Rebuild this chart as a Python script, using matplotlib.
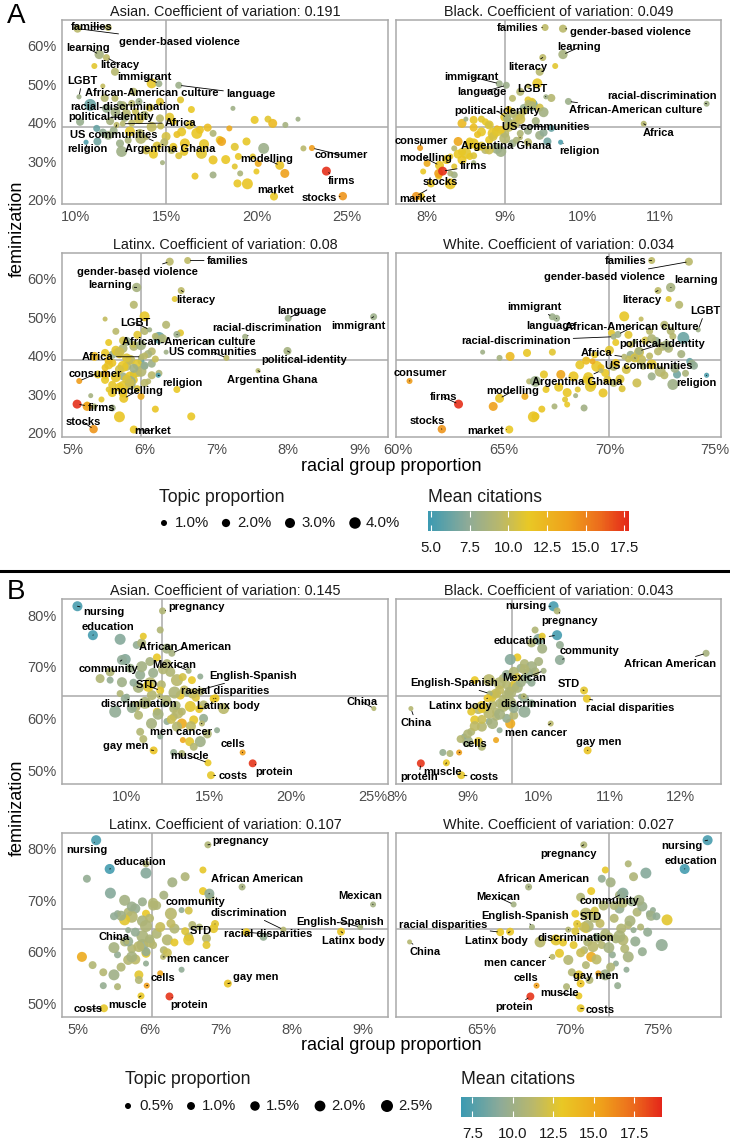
import numpy as np
import matplotlib
matplotlib.use("Agg")
import matplotlib.pyplot as plt
from matplotlib.colors import LinearSegmentedColormap, Normalize
from matplotlib.cm import ScalarMappable
from matplotlib.lines import Line2D

plt.rcParams["font.family"] = ["Liberation Sans", "DejaVu Sans"]

W, H = 730, 1139
RACES = ["Asian", "Black", "Latinx", "White"]

# ---------------- Panel A: labelled topics ----------------
a_topics = ["families", "gender-based violence", "learning", "literacy", "immigrant",
            "language", "LGBT", "African-American culture", "racial-discrimination",
            "political-identity", "Africa", "US communities", "religion",
            "Argentina Ghana", "consumer", "modelling", "firms", "market", "stocks"]
a_fem = [64.8, 64.5, 57.8, 57.0, 50.2, 49.8, 46.8, 45.6, 45.0, 41.3, 39.8, 39.5, 35.0,
         36.2, 33.5, 29.0, 27.5, 20.9, 21.0]
a_prop = [1.4, 1.9, 2.6, 1.4, 1.4, 1.4, 0.7, 1.4, 1.0, 1.9, 1.0, 1.0, 0.7, 0.7, 1.0, 2.4,
          2.4, 1.9, 2.1]
a_cites = [9.6, 9.5, 8.6, 9.6, 8.0, 8.0, 8.2, 8.0, 8.3, 8.5, 9.3, 9.6, 5.4, 9.3, 14.0,
           11.5, 17.5, 11.3, 14.3]
a_asian = [11.8, 10.1, 11.3, 11.7, 14.6, 15.7, 10.18, 13.5, 12.45, 12.7, 12.6, 12.26,
           10.57, 13.9, 23.07, 21.29, 23.87, 20.97, 24.78]
a_black = [9.52, 9.75, 9.75, 9.49, 8.93, 9.02, 9.53, 9.82, 11.6, 9.03, 10.79, 9.15, 9.72,
           9.2, 7.91, 8.16, 8.2, 7.92, 7.86]
a_latinx = [6.6, 6.35, 5.89, 6.51, 9.19, 8.0, 6.07, 6.45, 7.4, 7.99, 5.96, 7.14, 6.19,
            7.58, 5.09, 5.71, 5.06, 5.85, 5.29]
a_white = [72.0, 73.76, 72.9, 72.3, 67.3, 67.5, 74.2, 70.4, 70.2, 71.4, 70.7, 71.2, 74.6,
           69.6, 60.54, 64.8, 62.86, 65.26, 62.07]

# ---------------- Panel A: other (unlabelled) topics ----------------
a_other_fem = [54.8, 53.3, 49.6, 50.3, 48.1, 46.4, 44.7, 43.8, 40.3, 38.6, 35.2, 34.7, 32.6,
               37.3, 45.5, 41.2, 40.3, 37.7, 37.3, 34.7, 32.1, 38.2, 37.3, 35.6, 35.2, 38.6,
               33.8, 35.2, 40.8, 41.0, 39.9, 39.5, 41.0, 33.4, 33.4, 31.3, 31.3, 26.2, 26.5,
               24.3, 24.2, 26.9, 27.4, 26.9, 29.5, 28.7, 29.7, 31.9, 33.0, 30.4, 46.0, 43.8,
               42.5, 45.1, 33.8,
               42.0, 39.0, 36.5, 40.5, 37.8, 43.0, 34.0, 38.0, 41.5, 36.0, 44.0, 32.5, 39.5,
               35.5, 42.8, 30.5, 37.0, 40.0, 33.0, 44.5, 38.8, 35.0, 41.0, 46.5, 31.5, 36.8,
               43.5, 34.5, 39.2, 37.5]
a_other_prop = [1.0, 1.9, 0.66, 3.0, 1.9, 1.4, 4.3, 2.4, 1.9, 1.4, 1.9, 1.9, 3.6, 2.4, 1.9,
                1.9, 1.4, 2.4, 3.6, 3.0, 3.6, 1.9, 1.4, 1.9, 2.4, 1.0, 1.9, 1.9, 1.9, 1.4,
                2.4, 1.0, 0.66, 1.0, 3.6, 1.0, 1.4, 1.4, 1.4, 1.9, 3.6, 1.0, 1.0, 2.4, 1.4,
                1.0, 0.66, 2.4, 1.9, 2.4, 1.4, 0.66, 2.4, 1.4, 1.9,
                2.4, 3.0, 2.4, 1.9, 3.0, 1.4, 2.4, 1.9, 2.4, 3.6, 1.9, 1.9, 2.4, 1.4, 3.0,
                2.4, 1.4, 1.4, 2.4, 2.4, 1.9, 1.9, 3.0, 1.9, 1.4, 2.4, 1.4, 3.0, 1.4, 1.9]
a_other_cites = [11.0, 9.3, 9.8, 11.2, 9.2, 9.5, 6.3, 7.8, 7.8, 6.2, 6.5, 8.0, 8.2, 9.3,
                 11.0, 9.4, 11.3, 11.2, 11.4, 11.5, 11.0, 11.6, 9.0, 11.3, 13.5, 13.2, 11.0,
                 11.2, 11.4, 11.0, 12.2, 8.5, 8.2, 9.4, 8.0, 11.0, 11.3, 11.5, 8.3, 11.4,
                 11.5, 8.8, 11.3, 13.8, 13.2, 11.0, 8.5, 11.3, 9.5, 11.5, 11.0, 8.2, 9.3,
                 9.3, 11.3,
                 9.0, 9.8, 10.5, 8.6, 11.0, 10.0, 10.8, 8.0, 11.0, 9.2, 10.4, 11.2, 10.8,
                 8.8, 8.4, 11.4, 11.8, 9.6, 10.2, 9.0, 12.0, 9.5, 10.2, 9.2, 10.8, 8.2,
                 11.3, 11.2, 10.0, 7.5]
a_other_asian = [11.03, 12.17, 11.5, 14.2, 13.2, 12.17, 10.8, 11.7, 10.24, 11.16, 11.2,
                 12.45, 12.54, 13.55, 14.66, 14.66, 15.4, 15.86, 16.7, 16.04, 16.96, 16.87,
                 17.6, 17.97, 18.07, 18.5, 18.8, 19.45, 19.9, 20.64, 20.9, 21.6, 22.3, 22.6,
                 20.4, 19.8, 19.0, 16.6, 17.6, 18.95, 19.5, 19.1, 20.0, 21.57, 20.1, 18.8,
                 14.8, 14.3, 15.3, 17.6, 15.8, 18.7, 12.8, 13.1, 15.4,
                 13.8, 14.2, 15.0, 11.9, 13.0, 13.3, 14.5, 12.1, 15.2, 13.6, 14.1, 16.0,
                 16.3, 12.9, 12.2, 18.3, 15.6, 13.1, 13.9, 12.6, 17.3, 14.9, 13.5, 11.6,
                 15.7, 11.8, 16.4, 17.1, 14.7, 11.5]
a_other_black = [9.65, 9.45, 9.3, 9.42, 9.2, 9.1, 9.35, 9.25, 9.05, 9.6, 9.55, 9.1, 8.95,
                 9.0, 9.35, 9.15, 8.75, 8.7, 8.85, 8.6, 8.5, 8.95, 9.2, 8.8, 8.4, 8.9, 8.65,
                 8.55, 8.6, 8.7, 8.45, 8.8, 8.5, 8.35, 8.9, 8.3, 8.55, 8.15, 8.35, 8.05, 8.3,
                 8.3, 7.95, 8.15, 8.0, 8.35, 8.6, 8.4, 8.75, 8.45, 9.3, 9.3, 9.1, 9.3, 8.65,
                 9.2, 9.05, 8.85, 9.4, 8.9, 9.25, 8.7, 9.3, 9.0, 9.0, 9.45, 8.45, 8.8, 9.15,
                 9.5, 8.25, 8.65, 9.1, 8.8, 9.35, 8.6, 9.3, 9.2, 9.6, 8.6, 9.45, 9.05, 8.55,
                 9.1, 9.5]
a_other_latinx = [6.42, 5.85, 5.45, 6.0, 6.3, 5.6, 6.2, 5.75, 5.55, 5.95, 5.85, 5.7, 5.8,
                  5.75, 5.9, 6.1, 5.65, 5.5, 5.7, 5.8, 5.7, 5.55, 6.0, 5.9, 5.45, 5.8, 5.85,
                  5.35, 5.45, 5.6, 5.3, 5.95, 6.3, 6.05, 5.8, 5.5, 6.45, 6.15, 5.55, 6.65,
                  5.65, 5.3, 5.2, 5.2, 5.95, 5.4, 5.25, 5.65, 6.0, 5.7, 6.5, 6.9, 5.85, 6.15,
                  5.45,
                  5.7, 5.8, 5.65, 6.05, 5.9, 5.85, 5.75, 6.1, 5.6, 5.95, 5.7, 5.55, 5.75,
                  6.2, 5.95, 5.55, 5.45, 6.0, 5.8, 6.25, 5.5, 6.1, 5.65, 6.0, 5.9, 5.85,
                  5.5, 5.6, 6.15, 6.0]
a_other_white = [72.8, 73.3, 71.5, 70.7, 72.6, 71.9, 73.5, 72.2, 71.0, 73.8, 73.2, 72.0,
                 73.0, 70.2, 70.9, 72.3, 69.3, 68.6, 69.4, 68.3, 69.1, 70.3, 71.6, 69.8,
                 67.7, 69.2, 69.9, 66.9, 66.1, 67.3, 65.3, 64.8, 64.0, 66.2, 66.5, 68.5,
                 67.0, 66.8, 68.8, 66.5, 66.4, 67.4, 68.0, 64.5, 66.0, 67.9, 68.4, 67.6,
                 70.2, 69.7, 70.1, 71.2, 72.5, 73.0, 68.9,
                 72.8, 71.5, 70.8, 73.4, 72.0, 71.0, 70.5, 73.9, 70.0, 72.4, 71.7, 69.2,
                 71.2, 73.6, 72.7, 68.0, 69.6, 71.9, 71.3, 72.0, 68.9, 72.6, 71.4, 72.9,
                 70.6, 73.1, 70.3, 69.0, 70.9, 74.0]

a_cv = ["0.191", "0.049", "0.08", "0.034"]
a_mean_x = [15.0, 9.0, 5.95, 70.0]
a_mean_fem = 38.9

# ---------------- Panel B: labelled topics ----------------
b_topics = ["nursing", "pregnancy", "education", "African American", "community", "Mexican",
            "English-Spanish", "STD", "racial disparities", "discrimination", "Latinx body",
            "China", "men cancer", "gay men", "cells", "muscle", "costs", "protein"]
b_fem = [81.7, 80.8, 76.1, 72.6, 71.3, 69.2, 64.8, 65.4, 63.8, 64.3, 63.9, 61.9, 59.0, 53.8,
         53.4, 51.4, 49.0, 51.3]
b_prop = [1.7, 0.74, 1.7, 0.74, 1.7, 0.5, 0.5, 1.0, 1.0, 0.5, 1.0, 0.3, 0.5, 1.0, 0.5, 0.74,
          1.0, 1.0]
b_cites = [7.2, 10.8, 7.1, 10.4, 9.3, 10.2, 10.3, 12.8, 13.0, 11.0, 13.1, 11.0, 11.2, 13.2,
           15.5, 13.0, 12.9, 18.8]
b_asian = [6.99, 12.17, 7.93, 12.74, 9.7, 13.76, 13.66, 12.03, 15.28, 12.0, 15.4, 25.04,
           14.57, 11.63, 17.05, 14.94, 15.12, 17.66]
b_black = [10.21, 10.26, 10.26, 12.36, 10.3, 10.07, 9.31, 10.64, 10.68, 9.79, 9.28, 8.2,
           10.17, 10.69, 8.88, 8.7, 8.91, 8.34]
b_latinx = [5.25, 6.82, 5.44, 7.3, 6.84, 9.14, 8.96, 6.92, 7.36, 7.88, 8.69, 5.68, 6.19,
            7.1, 5.96, 5.88, 5.36, 6.28]
b_white = [77.8, 70.78, 76.5, 67.65, 72.95, 66.8, 67.84, 70.4, 66.04, 69.9, 66.6, 60.9,
           69.0, 70.6, 68.1, 70.5, 70.6, 67.75]

# ---------------- Panel B: other (unlabelled) topics ----------------
b_other_fem = [77.1, 75.3, 74.2, 74.6, 71.8, 73.5, 71.4, 67.7, 67.4, 68.4, 69.7, 66.8, 67.4,
               69.0, 67.4, 68.1, 61.3, 62.3, 62.9, 61.9, 62.3, 62.6, 61.9, 59.0, 60.3, 59.7,
               55.5, 55.5, 55.8, 53.4, 53.2, 57.4, 56.5, 57.7, 54.5, 64.2, 64.8, 69.0, 70.6,
               64.5, 64.5, 65.2, 59.4, 61.3, 58.4, 60.0, 61.3, 60.6, 75.9, 66.2, 62.9, 56.0,
               66.0, 63.5, 68.8, 61.0, 65.5, 70.0, 63.0, 59.8, 67.0, 64.0, 62.0, 66.5, 58.5,
               71.0, 60.8, 65.0, 68.0, 57.0, 63.8, 61.8, 69.5, 59.0, 64.8, 66.9, 62.5]
b_other_prop = [0.74, 2.07, 1.0, 1.33, 1.0, 1.7, 2.07, 1.33, 0.74, 1.7, 1.33, 2.5, 2.5, 1.7,
                1.0, 0.5, 2.5, 2.07, 1.33, 1.33, 2.07, 1.33, 2.07, 1.7, 1.0, 1.33, 2.07,
                1.33, 0.5, 0.74, 0.74, 1.0, 0.5, 0.5, 1.0, 0.5, 0.74, 1.33, 1.33, 1.7, 1.33,
                1.0, 0.74, 1.0, 1.7, 1.33, 1.0, 1.33, 0.74, 2.07, 1.0, 1.0,
                2.07, 1.7, 1.7, 2.07, 1.33, 2.07, 2.5, 1.33, 1.7, 1.0, 1.7, 1.33, 1.7, 1.33,
                2.07, 2.5, 1.0, 1.33, 1.33, 1.0, 1.7, 2.07, 1.7, 1.0, 1.33]
b_other_cites = [10.8, 9.0, 9.5, 10.7, 13.0, 10.2, 9.0, 10.8, 9.5, 9.6, 9.8, 11.0, 11.2,
                 10.8, 13.0, 9.5, 9.4, 11.0, 10.7, 10.8, 12.8, 11.0, 11.3, 14.8, 11.0, 12.9,
                 10.0, 12.8, 15.0, 9.6, 10.8, 10.9, 9.4, 9.5, 10.9, 9.6, 10.8, 10.8, 10.8,
                 10.9, 12.9, 11.0, 9.5, 12.8, 11.0, 9.6, 11.0, 10.9, 12.9, 12.8, 9.5, 11.0,
                 10.5, 10.8, 9.8, 11.2, 11.5, 10.2, 10.6, 11.8, 10.0, 12.5, 9.6, 11.0, 11.4,
                 10.4, 10.3, 10.7, 12.2, 10.8, 9.5, 12.9, 10.9, 10.4, 11.7, 9.4, 10.6]
b_other_asian = [12.03, 9.59, 10.6, 10.9, 11.83, 12.44, 9.9, 8.37, 8.98, 10.81, 10.2, 11.42,
                 13.05, 12.64, 13.96, 14.47, 9.29, 10.5, 11.22, 12.85, 13.86, 14.67, 15.89,
                 13.35, 12.85, 14.07, 14.47, 13.82, 13.41, 12.85, 13.35, 10.81, 12.03, 15.49,
                 14.07, 10.0, 9.59, 8.98, 12.44, 11.52, 13.25, 14.47, 12.44, 11.83, 13.05,
                 14.67, 13.35, 10.71, 11.0, 11.3, 12.3, 11.0,
                 10.7, 12.4, 11.6, 13.1, 13.5, 10.9, 11.1, 12.7, 9.7, 14.2, 10.3, 12.1, 13.9,
                 11.4, 11.9, 12.9, 13.4, 14.9, 9.9, 14.4, 12.2, 11.5, 14.0, 10.4, 13.0]
b_other_black = [9.95, 10.0, 10.3, 9.9, 9.7, 10.05, 9.6, 9.5, 9.85, 9.55, 9.75, 9.45, 9.3,
                 9.65, 9.1, 9.8, 9.8, 9.5, 9.45, 9.25, 9.2, 9.35, 9.15, 9.6, 9.4, 9.1, 9.0,
                 9.15, 9.4, 8.65, 8.75, 9.05, 8.95, 9.45, 9.2, 9.75, 9.4, 9.95, 9.8, 9.55,
                 9.35, 9.6, 9.3, 9.05, 9.2, 9.55, 9.4, 9.65, 10.05, 9.65, 9.9, 8.9,
                 9.7, 9.5, 9.85, 9.3, 9.45, 9.9, 9.6, 9.2, 9.75, 9.35, 9.65, 9.55, 9.1, 10.0,
                 9.45, 9.6, 9.7, 9.0, 9.8, 9.2, 9.8, 9.35, 9.4, 9.9, 9.55]
b_other_latinx = [5.95, 5.95, 5.12, 6.5, 6.75, 6.32, 5.45, 5.7, 5.55, 5.8, 5.9, 5.75, 6.3,
                  6.05, 5.95, 6.45, 5.9, 6.25, 6.55, 5.65, 6.55, 6.8, 6.0, 5.05, 6.2, 5.95,
                  5.5, 5.85, 6.15, 5.35, 5.55, 5.2, 6.45, 5.95, 5.85, 5.7, 6.7, 6.1, 6.85,
                  6.35, 6.9, 6.6, 5.55, 6.8, 5.7, 5.95, 6.05, 5.75, 6.75, 5.65, 7.6, 5.35,
                  5.9, 6.1, 5.75, 5.85, 6.3, 5.65, 5.9, 6.25, 5.6, 6.5, 5.7, 6.0, 5.8, 6.2,
                  5.5, 5.95, 6.55, 5.6, 5.8, 6.35, 6.05, 5.75, 6.15, 5.5, 6.0]
b_other_white = [73.3, 74.3, 71.8, 73.6, 71.2, 72.3, 73.0, 73.8, 74.5, 72.8, 73.5, 71.4,
                 70.9, 71.9, 70.3, 74.7, 75.2, 73.0, 72.2, 71.0, 69.2, 71.6, 68.3, 71.2,
                 70.8, 69.4, 72.0, 70.5, 71.6, 72.7, 69.8, 70.9, 73.2, 72.6, 71.1, 73.6,
                 74.0, 72.5, 70.6, 72.9, 70.9, 73.3, 72.4, 70.2, 69.9, 74.1, 71.8, 73.1,
                 72.0, 75.5, 71.5, 70.1,
                 73.4, 72.0, 74.1, 71.3, 71.7, 73.9, 72.8, 70.6, 74.6, 70.3, 73.7, 72.5,
                 71.5, 72.8, 72.2, 71.0, 71.4, 72.3, 74.4, 69.6, 73.0, 73.3, 70.8, 74.9, 72.6]

b_cv = ["0.145", "0.043", "0.107", "0.027"]
b_mean_x = [12.13, 9.63, 6.03, 72.2]
b_mean_fem = 64.4

# legend values
a_size_breaks = [1.0, 2.0, 3.0, 4.0]
b_size_breaks = [0.5, 1.0, 1.5, 2.0, 2.5]
a_cite_breaks = [5.0, 7.5, 10.0, 12.5, 15.0, 17.5]
b_cite_breaks = [7.5, 10.0, 12.5, 15.0, 17.5]

# ---------------- layout / style ----------------
CMAP = LinearSegmentedColormap.from_list(
    "cites", [(0.0, "#3B9AB2"), (0.2, "#8FAB97"), (0.36, "#BAB86A"), (0.5, "#E9C825"),
              (0.7, "#EFA01B"), (0.86, "#EC6A1C"), (1.0, "#E4261A")])
A_NORM = Normalize(4.8, 17.8)
B_NORM = Normalize(6.8, 19.2)

A_BOXES = [(62, 20, 388, 204), (396, 20, 721, 204), (62, 253, 388, 437), (396, 253, 721, 437)]
B_BOXES = [(62, 599, 388, 784), (396, 599, 721, 784), (62, 833, 388, 1017), (396, 833, 721, 1017)]
A_XLIM = [(9.24, 27.28), (7.6, 11.785), (4.85, 9.39), (59.9, 75.28)]
B_XLIM = [(6.05, 25.9), (7.99, 12.57), (4.77, 9.35), (60.13, 78.56)]
A_YLIM = (18.96, 66.75)
B_YLIM = (47.3, 83.1)
A_XTICKS = [[10, 15, 20, 25], [8, 9, 10, 11], [5, 6, 7, 8, 9], [60, 65, 70, 75]]
B_XTICKS = [[10, 15, 20, 25], [8, 9, 10, 11, 12], [5, 6, 7, 8, 9], [65, 70, 75]]
A_YTICKS = [20, 30, 40, 50, 60]
B_YTICKS = [50, 60, 70, 80]

# label offsets from each point, pixels (right, up)
A_OFFSETS = {
    "Asian": {"families": (-17, 1), "gender-based violence": (102, -13), "learning": (-11, 6),
              "literacy": (13, -7), "immigrant": (-14, 7), "LGBT": (3, 16),
              "African-American culture": (13, 8), "language": (72, -9),
              "racial-discrimination": (5, -3), "political-identity": (-13, 1),
              "Africa": (58, 1), "US communities": (-3, -10), "religion": (1, -7),
              "Argentina Ghana": (24, -11), "consumer": (29, -7), "modelling": (-13, 6),
              "firms": (15, -10), "market": (2, 7), "stocks": (-24, -2)},
    "Black": {"families": (-27, 0), "gender-based violence": (67, -3), "learning": (16, 7),
              "literacy": (-15, -9), "immigrant": (-28, 7), "language": (-24, -7),
              "LGBT": (-14, 8), "African-American culture": (67, -9),
              "racial-discrimination": (-45, 8), "political-identity": (-10, 7),
              "Africa": (15, -9), "US communities": (29, -2), "religion": (19, -9),
              "Argentina Ghana": (-14, -8), "consumer": (1, 7), "modelling": (-14, 7),
              "firms": (31, 5), "stocks": (24, 14), "market": (-3, -2)},
    "Latinx": {"families": (40, 0), "gender-based violence": (-32, -10), "learning": (-27, 2),
               "literacy": (15, -9), "immigrant": (-15, -9), "language": (14, 7),
               "LGBT": (-14, 7), "African-American culture": (12, -8),
               "racial-discrimination": (22, 9), "political-identity": (17, -9),
               "Africa": (-44, 0), "US communities": (-14, 6), "religion": (24, -8),
               "Argentina Ghana": (14, -9), "consumer": (16, 7), "modelling": (13, 7),
               "firms": (24, -4), "stocks": (-10, 7), "market": (19, -1)},
    "White": {"families": (-26, 0), "gender-based violence": (-84, -15), "learning": (25, 7),
              "literacy": (-16, -9), "immigrant": (-18, 10), "language": (-6, -8),
              "LGBT": (7, 19), "African-American culture": (14, 7),
              "racial-discrimination": (-98, -4), "political-identity": (23, 7),
              "Africa": (-28, 4), "US communities": (14, -8), "religion": (-10, -8),
              "Argentina Ghana": (-24, -11), "consumer": (11, 8), "modelling": (13, 7),
              "firms": (-15, 7), "stocks": (-15, 8), "market": (-24, -1)},
}
B_OFFSETS = {
    "Asian": {"nursing": (26, -6), "pregnancy": (34, 4), "education": (15, 8),
              "African American": (13, 6), "community": (-13, -9), "Mexican": (-14, 6),
              "English-Spanish": (66, 18), "STD": (-13, 5), "racial disparities": (12, 8),
              "discrimination": (-21, -8), "Latinx body": (13, -8), "China": (-12, 7),
              "men cancer": (-21, -8), "gay men": (-28, 4), "cells": (-10, 8),
              "muscle": (-19, 7), "costs": (22, -1), "protein": (21, -9)},
    "Black": {"nursing": (-28, 0), "pregnancy": (12, -10), "education": (-37, -6),
              "African American": (-36, -11), "community": (30, 9), "Mexican": (-19, -7),
              "English-Spanish": (-36, 11), "STD": (-15, 6), "racial disparities": (43, -9),
              "discrimination": (15, -8), "Latinx body": (-27, -8), "China": (5, -14),
              "men cancer": (-15, -9), "gay men": (11, 8), "cells": (16, 8),
              "muscle": (-4, -9), "costs": (23, -2), "protein": (-2, -14)},
    "Latinx": {"nursing": (-9, -10), "pregnancy": (33, 4), "education": (30, 7),
               "African American": (15, 8), "community": (-14, -8), "Mexican": (-13, 8),
               "English-Spanish": (-20, 5), "STD": (-14, -7), "racial disparities": (22, -2),
               "discrimination": (-35, 17), "Latinx body": (12, -9), "China": (-13, 5),
               "men cancer": (35, -2), "gay men": (28, 7), "cells": (16, 8),
               "muscle": (-14, -9), "costs": (-16, -1), "protein": (20, -9)},
    "White": {"nursing": (-26, -6), "pregnancy": (-15, -9), "education": (6, 8),
              "African American": (14, 8), "community": (-13, -7), "Mexican": (-15, 7),
              "English-Spanish": (-7, 11), "STD": (14, 7), "racial disparities": (-57, 7),
              "discrimination": (8, -8), "Latinx body": (-14, -9), "China": (15, -10),
              "men cancer": (-37, -6), "gay men": (15, 8), "cells": (-11, 8),
              "muscle": (-19, 3), "costs": (20, -2), "protein": (-16, -11)},
}

BORDER = "#a9a9a9"
TICK_COLOR = "#4d4d4d"


def size_a(v):
    d = np.sqrt(4 + 32 * np.asarray(v, dtype=float))  # diameter in px
    return (d * 0.72) ** 2


def size_b(v):
    d = np.sqrt(9 + 54 * np.asarray(v, dtype=float))
    return (d * 0.72) ** 2


fig = plt.figure(figsize=(W / 100, H / 100), dpi=100, facecolor="white")


def add_box(box):
    l, t, r, b = box
    return fig.add_axes([l / W, 1 - b / H, (r - l) / W, (b - t) / H])


def draw_panel(box, race, cv, xlim, ylim, xticks, yticks, show_y, mean_x, mean_y,
               ox, oy, oprop, ocites, lx, ly, lprop, lcites, topics, offsets, norm, size_fn):
    ax = add_box(box)
    ax.set_xlim(*xlim)
    ax.set_ylim(*ylim)
    ax.axhline(mean_y, color=BORDER, lw=1.1, zorder=1)
    ax.axvline(mean_x, color=BORDER, lw=1.1, zorder=1)
    ax.scatter(ox, oy, s=size_fn(oprop), c=ocites, cmap=CMAP, norm=norm,
               alpha=0.9, linewidths=0, zorder=2)
    ax.scatter(lx, ly, s=size_fn(lprop), c=lcites, cmap=CMAP, norm=norm,
               alpha=0.9, linewidths=0, zorder=3)
    for name, x, y in zip(topics, lx, ly):
        dx, dy = offsets[name]
        ax.annotate(name, xy=(x, y), xytext=(dx, dy), textcoords="offset pixels",
                    ha="center", va="center", fontsize=8, fontweight="bold",
                    color="black", zorder=5,
                    arrowprops=dict(arrowstyle="-", color="black", lw=0.6,
                                    shrinkA=0, shrinkB=2))
    ax.set_xticks(xticks)
    ax.set_xticklabels([f"{t:g}%" for t in xticks])
    ax.set_yticks(yticks)
    ax.set_yticklabels([f"{t:g}%" for t in yticks])
    ax.tick_params(length=0, labelsize=10.5, labelcolor=TICK_COLOR, pad=4,
                   labelleft=show_y)
    for sp in ax.spines.values():
        sp.set_color(BORDER)
        sp.set_linewidth(1.1)
    ax.set_title(f"{race}. Coefficient of variation: {cv}", fontsize=10.4,
                 color="#1a1a1a", pad=3)
    return ax


a_x = [a_asian, a_black, a_latinx, a_white]
a_ox = [a_other_asian, a_other_black, a_other_latinx, a_other_white]
b_x = [b_asian, b_black, b_latinx, b_white]
b_ox = [b_other_asian, b_other_black, b_other_latinx, b_other_white]

for i, race in enumerate(RACES):
    draw_panel(A_BOXES[i], race, a_cv[i], A_XLIM[i], A_YLIM, A_XTICKS[i], A_YTICKS,
               i % 2 == 0, a_mean_x[i], a_mean_fem,
               a_ox[i], a_other_fem, a_other_prop, a_other_cites,
               a_x[i], a_fem, a_prop, a_cites, a_topics, A_OFFSETS[race], A_NORM, size_a)
    draw_panel(B_BOXES[i], race, b_cv[i], B_XLIM[i], B_YLIM, B_XTICKS[i], B_YTICKS,
               i % 2 == 0, b_mean_x[i], b_mean_fem,
               b_ox[i], b_other_fem, b_other_prop, b_other_cites,
               b_x[i], b_fem, b_prop, b_cites, b_topics, B_OFFSETS[race], B_NORM, size_b)


def ftext(x, y, s, **kw):
    fig.text(x / W, 1 - y / H, s, **kw)


# panel letters, shared axis labels
ftext(7, 16, "A", fontsize=20, ha="left", va="center")
ftext(7, 592, "B", fontsize=20, ha="left", va="center")
for yc in (228.5, 808):
    ftext(17, yc, "feminization", fontsize=13, rotation=90, ha="center", va="center")
for yc in (466, 1046):
    ftext(391.5, yc, "racial group proportion", fontsize=13, ha="center", va="center")

# separator
fig.add_artist(Line2D([0, 1], [1 - 571 / H] * 2, color="black", lw=2.2,
                      transform=fig.transFigure))

# legends
ov = fig.add_axes([0, 0, 1, 1], facecolor="none")
ov.set_xlim(0, W)
ov.set_ylim(H, 0)
ov.axis("off")


def size_legend(x0, ytitle, yrow, dot_x, breaks, size_fn):
    ftext(x0, ytitle, "Topic proportion", fontsize=12.7, ha="left", va="center",
          color="#1a1a1a")
    ov.scatter(dot_x, [yrow] * len(breaks), s=size_fn(breaks), color="black",
               linewidths=0)
    for xd, v in zip(dot_x, breaks):
        ov.text(xd + 11, yrow, f"{v:.1f}%", fontsize=10.8, ha="left", va="center",
                color="#1a1a1a")


def cite_legend(box, ytitle, norm, ticks):
    ftext(box[0], ytitle, "Mean citations", fontsize=12.7, ha="left", va="center",
          color="#1a1a1a")
    cax = add_box(box)
    cb = fig.colorbar(ScalarMappable(norm=norm, cmap=CMAP), cax=cax,
                      orientation="horizontal")
    cb.outline.set_visible(False)
    cb.set_ticks(ticks)
    cb.set_ticklabels([f"{t:.1f}" for t in ticks])
    cax.tick_params(axis="x", direction="in", length=4, width=0.8, color="white",
                    top=True, bottom=True, labelsize=10.8, labelcolor="#1a1a1a", pad=7)


size_legend(159, 498, 523, [164, 226, 290, 355], a_size_breaks, size_a)
cite_legend((428, 511, 629, 531), 498, A_NORM, a_cite_breaks)
size_legend(125, 1080, 1106, [128, 191, 255, 320, 387], b_size_breaks, size_b)
cite_legend((461, 1097, 662, 1117), 1080, B_NORM, b_cite_breaks)

fig.savefig("out.png", dpi=100, facecolor="white")
